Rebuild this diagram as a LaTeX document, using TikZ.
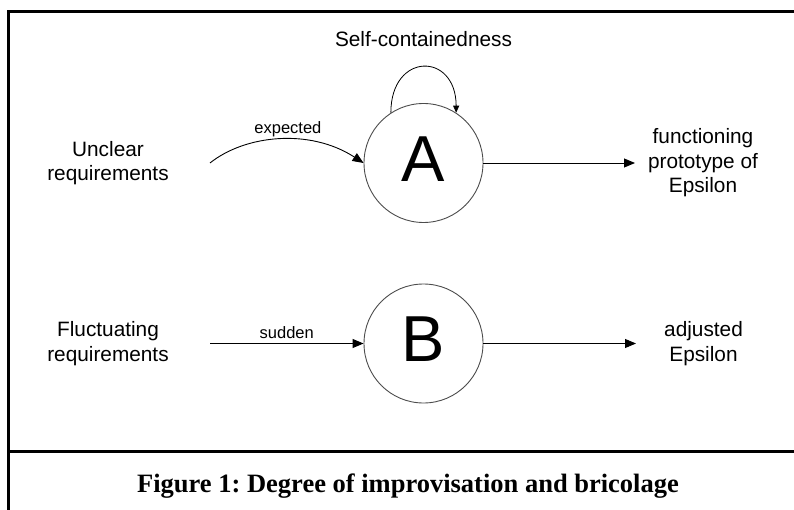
\documentclass[tikz,border=0pt]{standalone}
\usepackage{fontspec}
\setmainfont{Liberation Sans}
\newfontfamily\captionfont{Liberation Serif}
\usetikzlibrary{arrows.meta}
\frenchspacing

\begin{document}
\begin{tikzpicture}[x=1pt, y=-1pt,
    state/.style={circle, draw=black!70, line width=0.9pt, minimum size=119pt,
        inner sep=0pt, text depth=8pt, font=\fontsize{65}{65}\selectfont},
    label/.style={align=center, inner sep=0pt, font=\fontsize{20.8}{24.5}\selectfont},
    small/.style={inner sep=0pt, font=\fontsize{16.5}{18}\selectfont},
    flow/.style={line width=0.9pt, -{Triangle[length=11pt,width=9pt]}},
    selfloop/.style={line width=0.8pt, -{Triangle[length=7pt,width=6pt]}},
    frame/.style={line width=2.5pt}]

    \useasboundingbox (0,0) rectangle (794,510);

    % Frame and caption line
    \draw[frame] (8.5,510) -- (8.5,11.5) -- (794,11.5);
    \draw[frame] (8.5,451.7) -- (794,451.7);

    % States
    \node[state] (A) at (423.5,163) {A};
    \node[state] (B) at (423.5,343.5) {B};

    % Labels
    \node[label, anchor=base] (self) at (423.5,47) {Self-containedness};
    \node[label] (unclear) at (108,163) {Unclear\\requirements};
    \node[label] (fluct) at (108,343.5) {Fluctuating\\requirements};
    \node[label] (proto) at (703,163) {functioning\\prototype of\\Epsilon};
    \node[label] (adjusted) at (703.5,343.8) {adjusted\\Epsilon};

    % Free ends
    \coordinate (uin) at (210,163);
    \coordinate (fin) at (210,343.5);
    \coordinate (aend) at (635,163);
    \coordinate (bend) at (636,343.5);

    % Connectors
    \draw[flow] (uin) .. controls +(35,-28) and +(-54,-35) .. (A.west)
        node[small, pos=0.55, anchor=base, yshift=6pt] (expected) {expected};
    \draw[flow] (fin) -- (B.west)
        node[small, midway, anchor=base, yshift=5pt] (sudden) {sudden};
    \draw[selfloop] (A.123) .. controls +(0,-61) and +(0,-61) .. (A.57);
    \draw[flow] (A.east) -- (aend);
    \draw[flow] (B.east) -- (bend);

    % Caption
    \node[font=\captionfont\bfseries\fontsize{26.5}{30}\selectfont, anchor=base]
        (caption) at (408,492) {Figure 1: Degree of improvisation and bricolage};

\end{tikzpicture}
\end{document}
